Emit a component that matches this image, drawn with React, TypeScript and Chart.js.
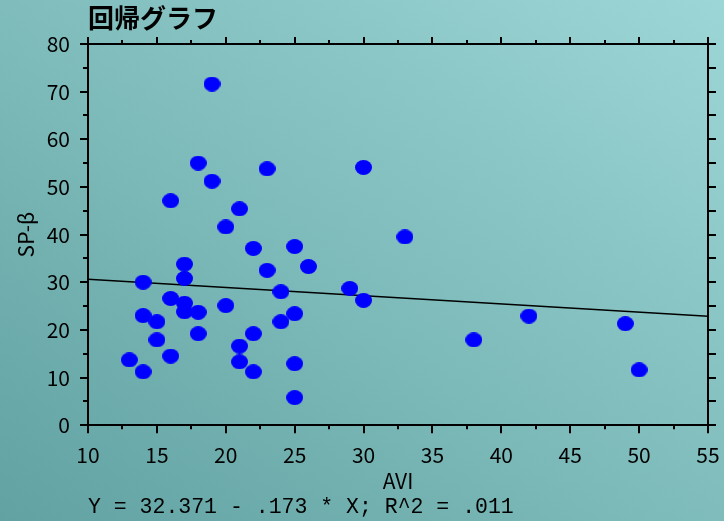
import React, { useEffect, useRef } from 'react';
import { Chart, registerables } from 'chart.js';

Chart.register(...registerables);

// ---- data ----
const TITLE = '回帰グラフ';
const X_LABEL = 'AVI';
const Y_LABEL = 'SP-β';
const FOOTNOTE = 'Y = 32.371 - .173 * X; R^2 = .011';

const aviValues = [
  19, 18, 19, 23, 30, 16, 21, 20, 33, 22, 25, 17, 26, 23, 17, 14, 29, 24, 30, 16, 17, 20,
  17, 18, 14, 15, 25, 24, 42, 49, 18, 22, 15, 38, 21, 16, 13, 21, 25, 14, 22, 50, 25,
];
const spBetaValues = [
  71.6, 55.0, 51.2, 53.8, 54.1, 47.1, 45.4, 41.6, 39.5, 37.1, 37.5, 33.8, 33.3, 32.5, 30.8,
  30.0, 28.7, 28.0, 26.2, 26.6, 25.6, 25.1, 23.8, 23.7, 23.0, 21.7, 23.4, 21.7, 22.9, 21.3,
  19.2, 19.2, 17.9, 17.9, 16.6, 14.5, 13.7, 13.3, 12.9, 11.2, 11.2, 11.6, 5.8,
];

// regression line end points
const fitX = [10, 55];
const fitY = [30.64, 22.86];

const X_MIN = 10;
const X_MAX = 55;
const X_MAJOR = 5;
const X_MINOR = 2.5;
const Y_MIN = 0;
const Y_MAX = 80;
const Y_MAJOR = 10;
const Y_MINOR = 5;

const TICK_FONT = { family: "'Noto Sans CJK JP', 'Noto Sans', sans-serif", size: 21 };

export default function App() {
  const ref = useRef<HTMLCanvasElement>(null);

  useEffect(() => {
    const dot = document.createElement('canvas');
    dot.width = 17;
    dot.height = 15;
    const c = dot.getContext('2d')!;
    c.fillStyle = '#0000ff';
    c.beginPath();
    c.ellipse(8.5, 7.5, 8.5, 7.5, 0, 0, Math.PI * 2);
    c.fill();

    const points = aviValues.map((x, i) => ({ x, y: spBetaValues[i] }));
    const fitLine = fitX.map((x, i) => ({ x, y: fitY[i] }));

    const zeroH = (s: any) => {
      s.height = 0;
      s.paddingLeft = 0;
      s.paddingRight = 0;
    };
    const zeroW = (s: any) => {
      s.width = 0;
    };
    const gridBase = {
      drawOnChartArea: false,
      color: '#000',
      tickColor: '#000',
      lineWidth: 2,
      tickWidth: 2,
    };

    const chart = new Chart(ref.current!, {
      type: 'scatter',
      data: {
        datasets: [
          {
            data: points,
            pointStyle: dot as any,
            pointRadius: 8,
            backgroundColor: '#0000ff',
            borderWidth: 0,
            order: 1,
          },
          {
            data: fitLine,
            showLine: true,
            borderColor: '#000',
            borderWidth: 1.6,
            pointRadius: 0,
            order: 2,
          } as any,
        ],
      },
      options: {
        animation: false,
        responsive: false,
        devicePixelRatio: 1,
        color: '#000',
        layout: { padding: { left: 0, right: 16, top: 0, bottom: 0 } },
        plugins: {
          legend: { display: false },
          tooltip: { enabled: false },
          title: {
            display: true,
            text: TITLE,
            align: 'start',
            fullSize: false,
            color: '#000',
            font: { family: "'Noto Sans CJK JP', sans-serif", size: 26, weight: 'bold', lineHeight: 1.2 },
            padding: { top: 3, bottom: 9.8 },
          },
          subtitle: {
            display: true,
            text: FOOTNOTE,
            position: 'bottom',
            align: 'start',
            fullSize: false,
            color: '#000',
            font: { family: "'Liberation Mono', 'DejaVu Sans Mono', monospace", size: 21.5, lineHeight: 1.2 },
            padding: { top: 0, bottom: 1 },
          },
        },
        scales: {
          x: {
            type: 'linear',
            axis: 'x',
            position: 'bottom',
            weight: 1,
            min: X_MIN,
            max: X_MAX,
            afterFit: (s: any) => {
              s.height = 69;
              s.paddingLeft = 0;
              s.paddingRight = 0;
            },
            ticks: { stepSize: X_MAJOR, color: '#000', font: TICK_FONT, padding: 9, maxRotation: 0, autoSkip: false },
            grid: { ...gridBase, tickLength: 8 },
            border: { display: true, color: '#000', width: 2 },
            title: {
              display: true,
              text: X_LABEL,
              color: '#000',
              font: { ...TICK_FONT, lineHeight: 1.2 },
              padding: { top: 0, bottom: 1 },
            },
          },
          xMinor: {
            type: 'linear',
            axis: 'x',
            position: 'bottom',
            weight: 0,
            min: X_MIN,
            max: X_MAX,
            afterFit: zeroH,
            ticks: { display: false, stepSize: X_MINOR, autoSkip: false },
            grid: { ...gridBase, tickLength: 4 },
            border: { display: false },
          },
          xTop: {
            type: 'linear',
            axis: 'x',
            position: 'top',
            weight: 1,
            min: X_MIN,
            max: X_MAX,
            afterFit: zeroH,
            ticks: { display: false, stepSize: X_MAJOR, autoSkip: false },
            grid: { ...gridBase, tickLength: 7 },
            border: { display: true, color: '#000', width: 2 },
          },
          xTopMinor: {
            type: 'linear',
            axis: 'x',
            position: 'top',
            weight: 0,
            min: X_MIN,
            max: X_MAX,
            afterFit: zeroH,
            ticks: { display: false, stepSize: X_MINOR, autoSkip: false },
            grid: { ...gridBase, tickLength: 4 },
            border: { display: false },
          },
          y: {
            type: 'linear',
            axis: 'y',
            position: 'left',
            weight: 1,
            min: Y_MIN,
            max: Y_MAX,
            afterFit: (s: any) => {
              s.width = 88;
            },
            ticks: { stepSize: Y_MAJOR, color: '#000', font: TICK_FONT, padding: 10, autoSkip: false },
            grid: { ...gridBase, tickLength: 8 },
            border: { display: true, color: '#000', width: 2 },
            title: {
              display: true,
              text: Y_LABEL,
              color: '#000',
              font: { ...TICK_FONT, lineHeight: 1.2 },
              padding: { top: 13, bottom: 0 },
            },
          },
          yMinor: {
            type: 'linear',
            axis: 'y',
            position: 'left',
            weight: 0,
            min: Y_MIN,
            max: Y_MAX,
            afterFit: zeroW,
            ticks: { display: false, stepSize: Y_MINOR, autoSkip: false },
            grid: { ...gridBase, tickLength: 5 },
            border: { display: false },
          },
          yRight: {
            type: 'linear',
            axis: 'y',
            position: 'right',
            min: Y_MIN,
            max: Y_MAX,
            afterFit: zeroW,
            ticks: { display: false, stepSize: Y_MINOR, autoSkip: false },
            grid: { ...gridBase, tickLength: 8 },
            border: { display: true, color: '#000', width: 2 },
          },
        },
      } as any,
    });
    return () => chart.destroy();
  }, []);

  return (
    <div
      style={{
        position: 'fixed',
        left: 0,
        top: 0,
        width: 724,
        height: 521,
        background: 'linear-gradient(to top right, #62a2a2, #9dd6d6)',
      }}
    >
      <canvas ref={ref} width={724} height={521} style={{ display: 'block' }} />
    </div>
  );
}
